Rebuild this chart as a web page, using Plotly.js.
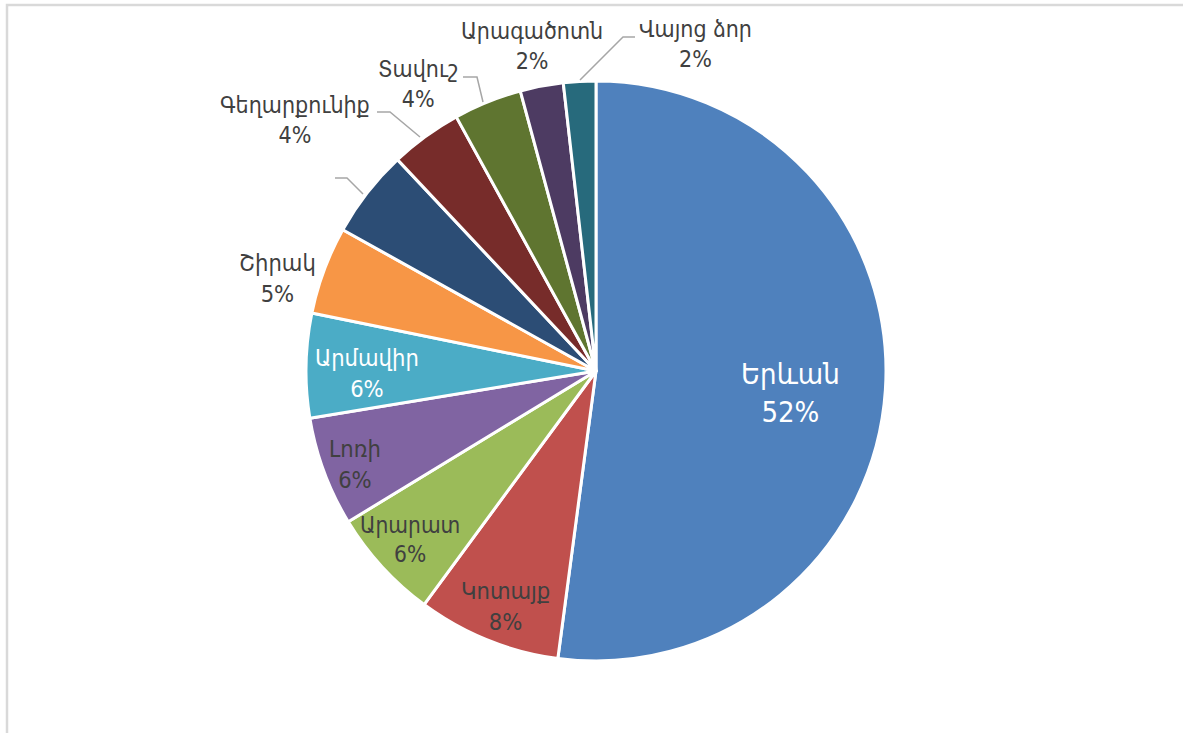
<!DOCTYPE html>
<html>
<head>
<meta charset="utf-8">
<script src="https://cdn.plot.ly/plotly-3.0.1.min.js"></script>
<style>
html,body{margin:0;padding:0;background:#fff;}
#chart{width:1183px;height:733px;}
</style>
</head>
<body>
<div id="chart"></div>
<script>
// ---- data ----
const regions = ["Երևան","Կոտայք","Արարատ","Լոռի","Արմավիր","Շիրակ","Սյունիք","Գեղարքունիք","Տավուշ","Արագածոտն","Վայոց ձոր"];
const shares = [52.1, 8.0, 6.2, 6.1, 5.8, 4.9, 4.9, 4.0, 3.8, 2.4, 1.8];
const percentLabels = ["52%","8%","6%","6%","6%","5%","5%","4%","4%","2%","2%"];
const shownNames = ["Երևան","Կոտայք","Արարատ","Լոռի","Արմավիր","Շիրակ","","Գեղարքունիք","Տավուշ","Արագածոտն","Վայոց ձոր"];

// ---- styles ----
const colors = ["#4F81BD","#C0504D","#9BBB59","#8064A2","#4BACC6","#F79646","#2C4D75","#772C2A","#5F7530","#4D3B62","#276A7C"];
const W = 1183, H = 733;
const FONT = "'Liberation Sans Narrow','Arial Narrow','DejaVu Sans Condensed',sans-serif";
// label centre positions in pixels, font sizes, colors
const labelPos = [[790,393],[505,606],[410,539],[355,464],[367,373],[277,278],null,[295,120],[418,84],[532,46],[695,44]];
const labelSize = [29,23.5,22.5,23.5,23.5,23.5,23.5,23,23,23,23];
const labelColor = ["#ffffff","#404040","#404040","#404040","#ffffff","#404040","#404040","#404040","#404040","#404040","#404040"];
const leaders = [
  [[335,178],[347,178],[363,194]],
  [[377,112],[390,112],[420,137]],
  [[463,77],[477,77],[483,102]],
  [[580,80],[623,37],[635,37]]
];

const px = x => x / W;
const py = y => 1 - y / H;

const annotations = [];
regions.forEach((r, i) => {
  if (!labelPos[i] || !shownNames[i]) return;
  annotations.push({
    x: px(labelPos[i][0]), y: py(labelPos[i][1]), xref: 'paper', yref: 'paper',
    text: shownNames[i] + '<br>' + percentLabels[i], showarrow: false,
    xanchor: 'center', yanchor: 'middle', align: 'center',
    font: {family: FONT, size: labelSize[i], color: labelColor[i]}
  });
});

const shapes = [];
leaders.forEach(pts => {
  shapes.push({type: 'path', xref: 'paper', yref: 'paper', path: pts.map((p, k) => (k ? 'L ' : 'M ') + px(p[0]) + ',' + py(p[1])).join(' '), line: {color: '#A6A6A6', width: 1.5}});
});
// frame
shapes.push({type: 'path', xref: 'paper', yref: 'paper',
  path: 'M ' + px(7) + ',' + py(740) + ' L ' + px(7) + ',' + py(5) + ' L ' + px(1190) + ',' + py(5),
  line: {color: '#D9D9D9', width: 2.5}});

const trace = {
  type: 'pie', labels: regions, values: shares, sort: false, direction: 'clockwise', rotation: 0,
  marker: {colors: colors, line: {color: '#ffffff', width: 3}},
  textinfo: 'none', hoverinfo: 'label+percent',
  domain: {x: [306 / W, 886 / W], y: [py(661), py(81)]},
  showlegend: false
};

Plotly.newPlot('chart', [trace], {
  width: W, height: H, margin: {l: 0, r: 0, t: 0, b: 0},
  paper_bgcolor: '#ffffff', plot_bgcolor: '#ffffff',
  annotations: annotations, shapes: shapes, showlegend: false
}, {displayModeBar: false, staticPlot: true});
</script>
</body>
</html>
